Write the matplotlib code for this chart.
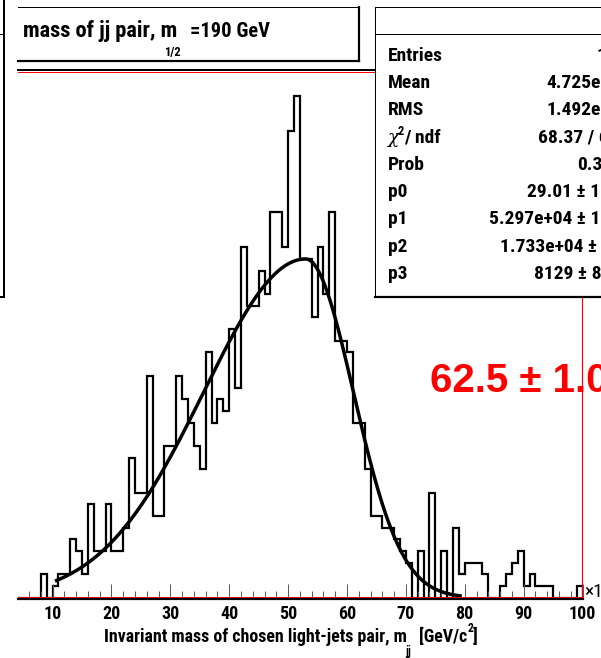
import numpy as np
import matplotlib
matplotlib.use("Agg")
import matplotlib.pyplot as plt

plt.rcParams['font.family'] = ['Roboto Condensed', 'Liberation Sans', 'DejaVu Sans']

# invariant mass of the chosen light-jet pair, 1 GeV bins starting at 4 GeV
bin_lo = 4
counts = [0, 0, 0, 0, 2, 0,
          1, 2, 2, 5, 4, 2, 8, 4, 4, 8,
          4, 4, 6, 12, 9, 9, 19, 7, 7, 13,
          13, 19, 17, 15, 13, 11, 21, 15, 17, 16,
          23, 18, 30, 25, 25, 28, 26, 33, 33, 30,
          40, 43, 29, 29, 24, 30, 26, 33, 22, 22,
          21, 15, 15, 11, 7, 7, 6, 6, 5, 4,
          3, 0, 4, 0, 9, 0, 4, 0, 6, 2,
          3, 3, 3, 2, 0, 0, 1, 2, 3, 4,
          1, 2, 1, 1, 1, 0, 0, 0, 0, 1]

# bifurcated gaussian fit (mean / widths stored in MeV)
p0, p1, p2, p3 = 29.01, 5.297e+04, 1.733e+04, 8129
fit_lo, fit_hi = 10.4, 79.5

stat_labels = ["Entries", "Mean", "RMS", None, "Prob", "p0", "p1", "p2", "p3"]
stat_values = ["1011", "4.725e+01", "1.492e+01", "68.37 / 66", "0.3297",
               "29.01 \u00b1 1.16", "5.297e+04 \u00b1 1.16e+03",
               "1.733e+04 \u00b1 5.98e+02", "8129 \u00b1 885"]
# how much of each value shows before the pad edge cuts it, and where it stops
stat_shown = ["1", "4.725e", "1.492e", "68.37", "0.3",
              "29.01 \u00b1 1", "5.297e+04 \u00b1 1", "1.733e+04 \u00b1", "8129 \u00b1 8"]
stat_shown_end = [606, 601, 601, 583, 603, 600, 600, 597, 601]

title_main = "mass of jj pair, m"
title_sub = "1/2"
title_tail = "=190 GeV"
peak_text = "62.5 \u00b1 1.0"
xtitle = "Invariant mass of chosen light-jets pair, m"

W, H = 601, 658
fig = plt.figure(figsize=(W / 100, H / 100), dpi=100)


def px_box(l, r, t, b):
    return [l / W, 1 - b / H, (r - l) / W, (b - t) / H]


ax = fig.add_axes(px_box(18.45, 582.5, 70.5, 597.7))
edges = np.arange(bin_lo, bin_lo + len(counts) + 1)
ax.stairs(counts, edges, color='black', lw=1.6, baseline=0)

mu, sl, sr = p1 / 1000, p2 / 1000, p3 / 1000
fx = np.linspace(fit_lo, fit_hi, 300)
sig = np.where(fx < mu, sl, sr)
fy = p0 * np.exp(-0.5 * ((fx - mu) / sig) ** 2)
ax.plot(fx, fy, color='black', lw=2.5, solid_capstyle='butt')

ax.set_xlim(4.2, 100)
ax.set_ylim(0, max(counts) * 1.05)
for s in ax.spines.values():
    s.set_visible(False)
ax.set_yticks([])
ax.set_xticks(np.arange(10, 101, 10))
ax.set_xticks(np.arange(6, 100, 2), minor=True)
ax.tick_params(axis='x', which='major', direction='in', length=10, width=0.7,
               color='#555555', pad=5, labelsize=13)
ax.tick_params(axis='x', which='minor', direction='in', length=5, width=0.7,
               color='#555555')
for lab in ax.get_xticklabels():
    lab.set_fontweight('bold')
ax.patch.set_alpha(0)

# overlay in pixel coordinates for frame lines, boxes and text
ov = fig.add_axes([0, 0, 1, 1])
ov.set_xlim(0, W)
ov.set_ylim(H, 0)
ov.axis('off')
ov.patch.set_alpha(0)
PX = 0.72
renderer = fig.canvas.get_renderer()


def text_width(s, **kw):
    t = ov.text(0, 0, s, **kw)
    w = t.get_window_extent(renderer).width
    t.remove()
    return w


def put(x, yb, s, **kw):
    return ov.text(x, yb, s, va='baseline', zorder=3, **kw)


# frame edges
ov.plot([18, 375], [69.8, 69.8], color='black', lw=2 * PX)
ov.plot([18, 375], [71.6, 71.6], color='red', lw=1 * PX)
ov.plot([18, 582.5], [596.7, 596.7], color='red', lw=1 * PX)
ov.plot([18, 582.5], [598.8, 598.8], color='black', lw=2.2 * PX)
ov.plot([581.5, 581.5], [296, 597], color='red', lw=1.2 * PX)

# box cut at the left edge
ov.plot([0, 3.5], [33.5, 33.5], color='black', lw=PX)
ov.plot([3.5, 3.5], [0, 297], color='black', lw=2 * PX)
ov.plot([0, 3.5], [297, 297], color='black', lw=2 * PX)

# title box
ov.fill([18, 359, 359, 18], [6.5, 6.5, 61, 61], color='white', zorder=1)
ov.plot([18, 359], [6.5, 6.5], color='black', lw=PX, zorder=2)
ov.plot([359, 359], [6.5, 61], color='black', lw=2.2 * PX, zorder=2)
ov.plot([18, 359], [61, 61], color='black', lw=2.2 * PX, zorder=2)
put(23.3, 36.7, title_main, fontsize=16.2, fontweight='bold')
put(164, 56, title_sub, fontsize=9, fontweight='bold')
put(190, 36.7, title_tail, fontsize=14.8, fontweight='bold')

# statistics box
ov.fill([375, W + 5, W + 5, 375], [6.7, 6.7, 296.5, 296.5], color='white', zorder=1)
ov.plot([375, W + 5], [6.7, 6.7], color='black', lw=PX, zorder=2)
ov.plot([375, 375], [6.7, 296.5], color='black', lw=PX, zorder=2)
ov.plot([375, W + 5], [34.3, 34.3], color='black', lw=PX, zorder=2)
ov.plot([375, W + 5], [296.5, 296.5], color='black', lw=2.2 * PX, zorder=2)
STAT = dict(fontsize=14, fontweight='bold')
for i, lab in enumerate(stat_labels):
    yb = 60.7 + 27.3 * i
    if lab is None:
        put(387.5, yb, "\u03c7", fontsize=13.5, style='italic', family=['DejaVu Serif'])
        put(397.5, yb - 8, "2", fontsize=9, fontweight='bold')
        put(404.5, yb, "/ ndf", **STAT)
    else:
        put(388, yb, lab, **STAT)
    vx = stat_shown_end[i] - text_width(stat_shown[i], **STAT)
    put(vx, yb, stat_values[i], **STAT)

put(430, 391.7, peak_text, fontsize=29, fontweight='bold', color='red',
    family=['Liberation Sans', 'DejaVu Sans'])

# axis title with sub/superscripts
put(104, 642, xtitle, fontsize=12.9, fontweight='bold')
put(405, 655, "jj", fontsize=8.5, fontweight='bold')
put(419.5, 642, "[GeV/c", fontsize=12.9, fontweight='bold')
put(468, 632, "2", fontsize=8.5, fontweight='bold')
put(473, 642, "]", fontsize=12.9, fontweight='bold')

put(584, 597, "\u00d71", fontsize=14)

fig.savefig("out.png", dpi=100)
